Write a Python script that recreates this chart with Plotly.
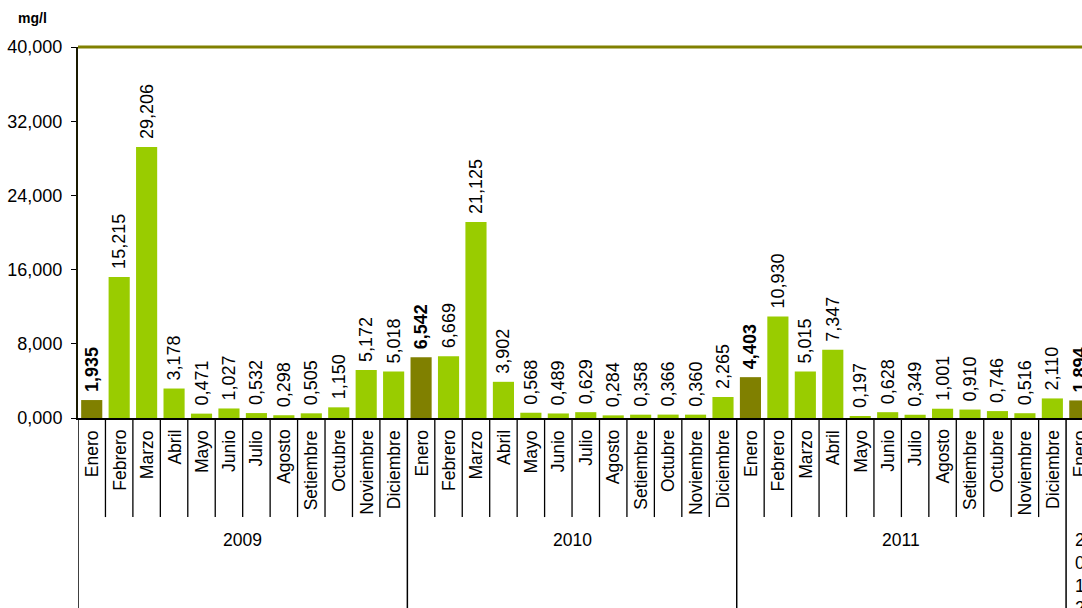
import plotly.graph_objects as go

years = ["2009", "2010", "2011", "2012"]
months = ["Enero", "Febrero", "Marzo", "Abril", "Mayo", "Junio", "Julio",
          "Agosto", "Setiembre", "Octubre", "Noviembre", "Diciembre"]
values_2009 = [1.935, 15.215, 29.206, 3.178, 0.471, 1.027, 0.532, 0.298, 0.505, 1.150, 5.172, 5.018]
values_2010 = [6.542, 6.669, 21.125, 3.902, 0.568, 0.489, 0.629, 0.284, 0.358, 0.366, 0.360, 2.265]
values_2011 = [4.403, 10.930, 5.015, 7.347, 0.197, 0.628, 0.349, 1.001, 0.910, 0.746, 0.516, 2.110]
values_2012 = [1.894]
y_ticks = [0, 8, 16, 24, 32, 40]

GREEN = "#99CC00"
OLIVE = "#808000"
FONT = "Liberation Sans, Arial, sans-serif"

series = [values_2009, values_2010, values_2011, values_2012]
xs, ys, colors, texts, month_labels = [], [], [], [], []
idx = 0
for yi, vals in enumerate(series):
    for mi, v in enumerate(vals):
        xs.append(idx)
        ys.append(v)
        s = f"{v:,.3f}".replace(",", "X").replace(".", ",").replace("X", ".")
        if mi == 0:
            colors.append(OLIVE)
            texts.append(f"\u00a0<b>{s}</b>")
        else:
            colors.append(GREEN)
            texts.append(f"\u00a0{s}")
        month_labels.append(months[mi])
        idx += 1

fig = go.Figure()
fig.add_trace(go.Bar(
    x=xs, y=ys, marker=dict(color=colors, line=dict(width=0)),
    text=texts, textposition="outside", textangle=-90,
    textfont=dict(family=FONT, size=18, color="black"),
    constraintext="none", cliponaxis=False, hoverinfo="skip",
))

annotations = []
shapes = []
for i, m in enumerate(month_labels):
    annotations.append(dict(x=i, y=-0.027, xref="x", yref="paper", text=m,
                            textangle=-90, yanchor="top", xanchor="center",
                            showarrow=False, font=dict(family=FONT, size=17.5, color="black")))
for i in range(len(xs) + 1):
    b = i - 0.5
    is_year = (i % 12 == 0)
    shapes.append(dict(type="line", xref="x", yref="paper", x0=b, x1=b, y0=0,
                       y1=-0.52 if is_year else -0.267,
                       line=dict(color="black", width=1.5 if is_year else 1.3)))
for yi, yr in enumerate(years):
    n = len(series[yi])
    center = yi * 12 + (n - 1) / 2
    if n >= 12:
        annotations.append(dict(x=center, y=-0.329, xref="x", yref="paper", text=yr,
                                showarrow=False, yanchor="middle",
                                font=dict(family=FONT, size=17.5, color="black")))
    else:
        annotations.append(dict(x=center, y=-0.296, xref="x", yref="paper",
                                text="<br>".join(list(yr)),
                                showarrow=False, yanchor="top",
                                font=dict(family=FONT, size=17.5, color="black")))
annotations.append(dict(x=-0.062, y=1.078, xref="paper", yref="paper", text="<b>mg/l</b>",
                        showarrow=False, xanchor="left", yanchor="middle",
                        font=dict(family=FONT, size=14, color="black")))
shapes.append(dict(type="line", xref="paper", yref="paper", x0=0, x1=1, y0=1, y1=1,
                   line=dict(color=OLIVE, width=3)))

fig.update_layout(
    width=1082, height=608,
    margin=dict(l=78, r=0, t=47, b=190, autoexpand=False),
    paper_bgcolor="white", plot_bgcolor="white",
    separators=",.",
    bargap=0.23,
    showlegend=False,
    xaxis=dict(range=[-0.5, 36.08], showticklabels=False, showgrid=False, automargin=False,
               zeroline=False, showline=True, linecolor="black", linewidth=2, ticks=""),
    yaxis=dict(range=[0, 40], tickvals=y_ticks, tickformat=".3f", showgrid=False,
               automargin=False, ticklabelstandoff=5,
               zeroline=False, showline=True, linecolor="#1a1a00", linewidth=2,
               ticks="outside", ticklen=5, tickcolor="black",
               tickfont=dict(family=FONT, size=18, color="black")),
    annotations=annotations,
    shapes=shapes,
)

fig.write_html("out.html", config={"displayModeBar": False},
               post_script="document.body.style.margin='0';document.body.style.overflow='hidden';")
